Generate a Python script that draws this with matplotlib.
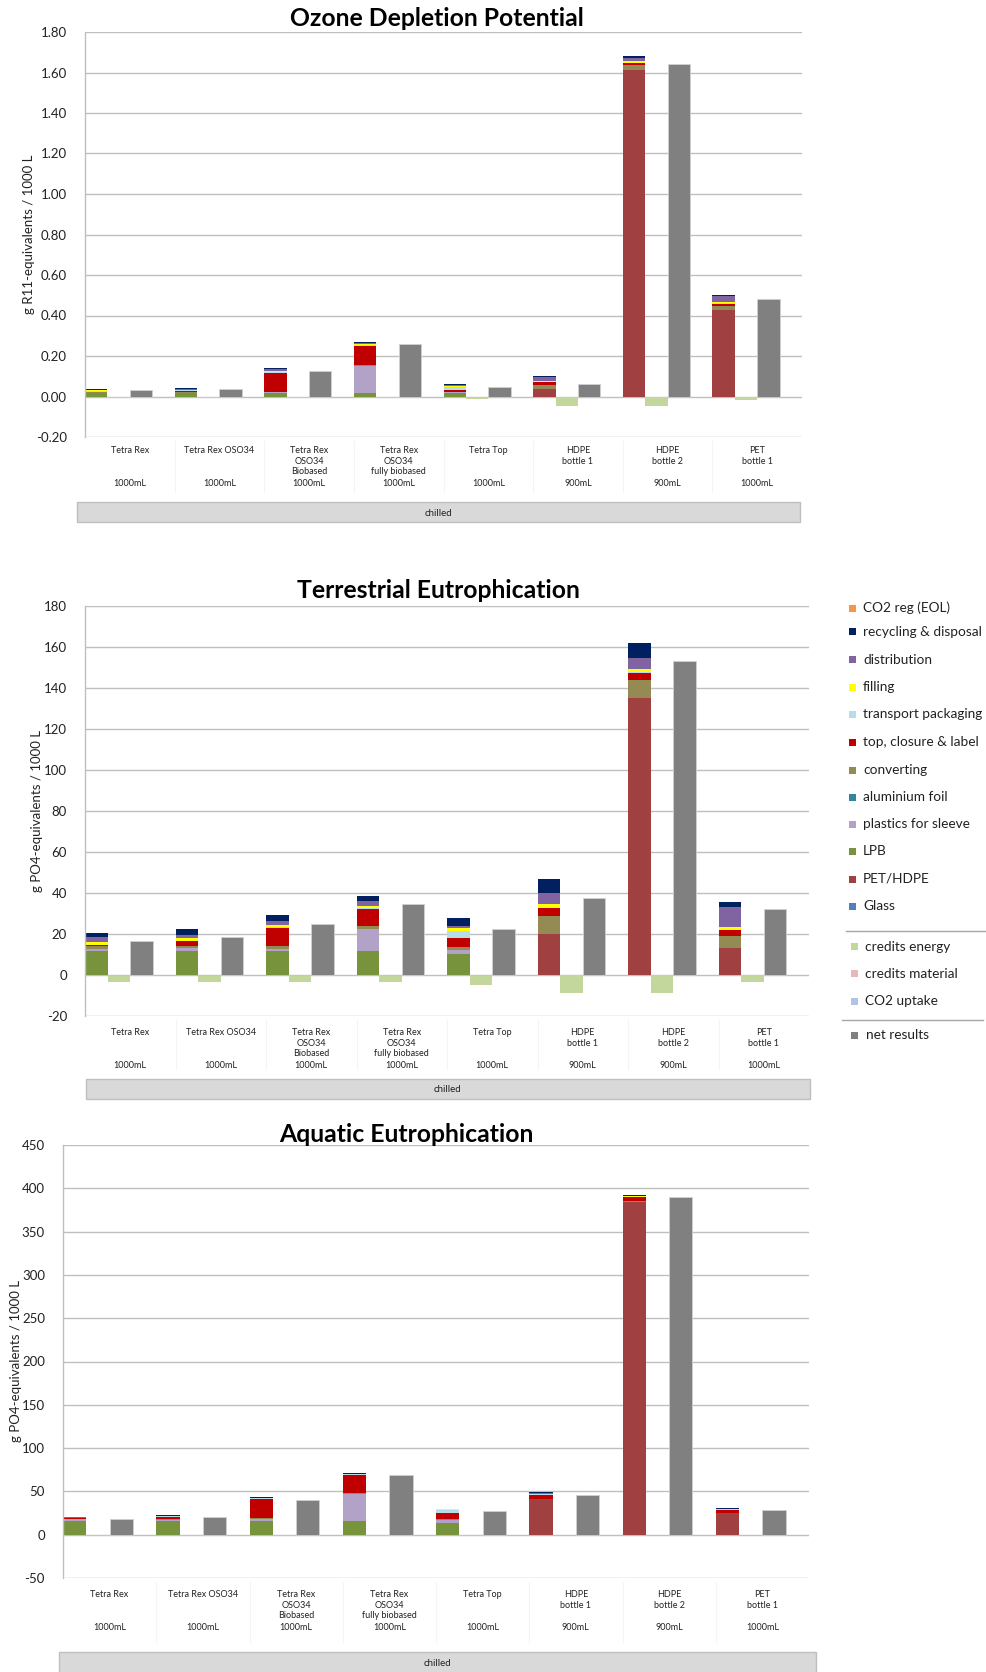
import matplotlib
matplotlib.use("Agg")
import matplotlib.pyplot as plt
from matplotlib.patches import Rectangle
from matplotlib.lines import Line2D
from matplotlib.transforms import blended_transform_factory
import numpy as np

plt.rcParams['font.family'] = ['Lato', 'DejaVu Sans']

W, H = 986, 1672

categories = ["Tetra Rex", "Tetra Rex OSO34", "Tetra Rex\nOSO34\nBiobased",
              "Tetra Rex\nOSO34\nfully biobased", "Tetra Top", "HDPE\nbottle 1",
              "HDPE\nbottle 2", "PET\nbottle 1"]
volumes = ["1000mL", "1000mL", "1000mL", "1000mL", "1000mL", "900mL", "900mL", "1000mL"]
group_label = "chilled"

# stacking order (bottom -> top)
comp_names = ["Glass", "PET/HDPE", "LPB", "plastics for sleeve", "aluminium foil",
              "converting", "top, closure & label", "transport packaging", "filling",
              "distribution", "recycling & disposal", "CO2 reg (EOL)"]
comp_colors = ["#4F81BD", "#A04040", "#77933C", "#B3A2C7", "#31859C", "#948A54",
               "#C00000", "#B7DEE8", "#FFFF00", "#8064A2", "#002060", "#F79646"]
credit_names = ["CO2 uptake", "credits material", "credits energy"]
credit_colors = ["#B0C4E4", "#E6B9B8", "#C3D69B"]
net_color = "#808080"

Z = [0] * 8

# ---------- Ozone Depletion Potential ----------
odp_glass = Z
odp_pet = [0, 0, 0, 0, 0, 0.036, 1.613, 0.426]
odp_lpb = [0.015, 0.015, 0.017, 0.015, 0.018, 0, 0, 0]
odp_sleeve = [0.004, 0.003, 0.003, 0.138, 0.003, 0, 0, 0]
odp_alu = Z
odp_converting = [0.003, 0.003, 0.002, 0.002, 0.001, 0.023, 0.023, 0.023]
odp_top = [0.002, 0.008, 0.096, 0.096, 0.012, 0.012, 0.010, 0.010]
odp_transport = [0.002, 0.001, 0.002, 0.001, 0.012, 0.002, 0.001, 0.001]
odp_filling = [0.004, 0.003, 0.007, 0.007, 0.007, 0.005, 0.008, 0.008]
odp_distribution = [0.004, 0.005, 0.007, 0.004, 0.005, 0.017, 0.018, 0.030]
odp_recycling = [0.003, 0.004, 0.006, 0.004, 0.005, 0.005, 0.008, 0.003]
odp_co2reg = Z
odp_co2uptake = Z
odp_cred_material = Z
odp_cred_energy = [-0.007, -0.007, -0.008, -0.007, -0.013, -0.045, -0.045, -0.017]
odp_net = [0.033, 0.038, 0.126, 0.257, 0.048, 0.060, 1.640, 0.483]

# ---------- Terrestrial Eutrophication ----------
te_glass = Z
te_pet = [0, 0, 0, 0, 0, 20.0, 135.2, 13.2]
te_lpb = [11.5, 11.5, 11.5, 11.5, 10.3, 0, 0, 0]
te_sleeve = [1.3, 1.45, 1.3, 11.1, 1.8, 0, 0, 0]
te_alu = Z
te_converting = [1.45, 1.3, 1.45, 1.3, 1.45, 8.9, 8.7, 6.0]
te_top = [0.3, 2.1, 8.9, 8.4, 4.5, 3.7, 3.5, 2.6]
te_transport = [0.2, 0.3, 0.3, 0.3, 3.4, 0.3, 0.5, 0.3]
te_filling = [1.45, 1.3, 1.0, 1.3, 1.45, 1.6, 1.45, 1.45]
te_distribution = [2.1, 1.45, 2.1, 2.1, 1.0, 5.6, 5.3, 9.5]
te_recycling = [2.1, 3.2, 2.6, 2.4, 3.9, 6.5, 7.1, 2.7]
te_co2reg = Z
te_co2uptake = Z
te_cred_material = [-0.6, -0.6, -0.6, -0.6, -0.6, 0, 0, 0]
te_cred_energy = [-2.6, -2.9, -2.9, -2.9, -4.4, -8.9, -8.9, -3.4]
te_net = [16.8, 18.4, 24.8, 34.4, 22.6, 37.6, 153.1, 32.3]

# ---------- Aquatic Eutrophication ----------
ae_glass = Z
ae_pet = [0, 0, 0, 0, 0, 40.8, 384.0, 25.0]
ae_lpb = [15.5, 15.5, 15.5, 15.5, 13.6, 0, 0, 0]
ae_sleeve = [2.3, 1.9, 2.7, 31.4, 3.9, 0, 0, 0]
ae_alu = Z
ae_converting = [0.6, 0.5, 0.6, 0.8, 0.8, 0.6, 1.5, 0.5]
ae_top = [0.4, 2.7, 22.9, 21.3, 6.2, 5.0, 4.5, 3.1]
ae_transport = [0.5, 0.8, 0.5, 1.0, 4.3, 0.5, 0.5, 0.5]
ae_filling = [0.3, 0.3, 0.3, 0.3, 0.3, 0.3, 0.3, 0.3]
ae_distribution = [0.3, 0.3, 0.3, 0.3, 0.3, 0.5, 0.5, 0.5]
ae_recycling = [0.5, 0.5, 0.5, 0.7, 0.8, 1.5, 1.5, 1.5]
ae_co2reg = Z
ae_co2uptake = Z
ae_cred_material = [-1.5, -1.5, -1.5, -1.5, -1.5, 0, 0, 0]
ae_cred_energy = [0, 0, 0, 0, 0, -0.8, -0.8, -0.8]
ae_net = [17.8, 20.5, 39.5, 68.6, 27.1, 46.2, 390.0, 28.8]

panels = [
    dict(title="Ozone Depletion Potential", ylabel="g R11-equivalents / 1000 L",
         comps=[odp_glass, odp_pet, odp_lpb, odp_sleeve, odp_alu, odp_converting, odp_top,
                odp_transport, odp_filling, odp_distribution, odp_recycling, odp_co2reg],
         credits=[odp_co2uptake, odp_cred_material, odp_cred_energy], net=odp_net,
         ylim=(-0.2, 1.8), step=0.2, fmt="{:.2f}",
         box=(85, 802, 32, 437), title_xy=(437, 19), ylab_x=29,
         name_y=446, vol_y=483, chilled=(77, 800, 502, 522)),
    dict(title="Terrestrial Eutrophication", ylabel="g PO4-equivalents / 1000 L",
         comps=[te_glass, te_pet, te_lpb, te_sleeve, te_alu, te_converting, te_top,
                te_transport, te_filling, te_distribution, te_recycling, te_co2reg],
         credits=[te_co2uptake, te_cred_material, te_cred_energy], net=te_net,
         ylim=(-20, 180), step=20, fmt="{:.0f}",
         box=(85, 809, 606, 1016), title_xy=(438, 590), ylab_x=37,
         name_y=1028, vol_y=1065, chilled=(86, 810, 1079, 1099)),
    dict(title="Aquatic Eutrophication", ylabel="g PO4-equivalents / 1000 L",
         comps=[ae_glass, ae_pet, ae_lpb, ae_sleeve, ae_alu, ae_converting, ae_top,
                ae_transport, ae_filling, ae_distribution, ae_recycling, ae_co2reg],
         credits=[ae_co2uptake, ae_cred_material, ae_cred_energy], net=ae_net,
         ylim=(-50, 450), step=50, fmt="{:.0f}",
         box=(63, 809, 1145, 1578), title_xy=(406, 1134), ylab_x=16,
         name_y=1590, vol_y=1627, chilled=(59, 816, 1652, 1680)),
]

fig = plt.figure(figsize=(W / 100, H / 100), dpi=100)

def fy(py):
    return 1 - py / H

def fx(px):
    return px / W

grid_col = "#BFBFBF"
n = len(categories)
x_stack = np.arange(n) * 4 + 0.5
x_cred = x_stack + 1
x_net = x_stack + 2

for p in panels:
    l, r, t, b = p["box"]
    ax = fig.add_axes([fx(l), fy(b), fx(r) - fx(l), fy(t) - fy(b)])
    ax.set_xlim(0, 4 * n)
    ax.set_ylim(*p["ylim"])
    ticks = np.arange(p["ylim"][0], p["ylim"][1] + p["step"] / 2, p["step"])
    ax.set_yticks(ticks)
    ax.set_yticklabels([p["fmt"].format(v) for v in ticks], fontsize=9.5, color="#222222")
    ax.tick_params(axis="y", length=0, pad=13)
    ax.set_xticks([])
    for s in ["top", "right", "bottom"]:
        ax.spines[s].set_visible(False)
    ax.spines["left"].set_color(grid_col)
    ax.spines["left"].set_linewidth(1.0)
    for v in ticks:
        ax.axhline(v, color=grid_col, lw=1.0, zorder=0.5)

    bottom = np.zeros(n)
    for vals, col in zip(p["comps"], comp_colors):
        vals = np.array(vals, dtype=float)
        ax.bar(x_stack, vals, width=1.0, bottom=bottom, color=col, linewidth=0, zorder=2)
        bottom += vals
    cb = np.zeros(n)
    for vals, col in zip(p["credits"], credit_colors):
        vals = np.array(vals, dtype=float)
        ax.bar(x_cred, vals, width=1.0, bottom=cb, color=col, linewidth=0, zorder=2)
        cb += vals
    ax.bar(x_net, p["net"], width=1.0, color=net_color, edgecolor="#D0D0D0",
           linewidth=0.6, zorder=2)

    trans = blended_transform_factory(ax.transData, fig.transFigure)
    for i in range(n):
        cx = 4 * i + 2
        ax.text(cx, fy(p["name_y"]), categories[i], transform=trans, ha="center",
                va="top", fontsize=6.5, color="#222222", linespacing=1.25)
        ax.text(cx, fy(p["vol_y"]), volumes[i], transform=trans, ha="center",
                va="center", fontsize=6.5, color="#222222")
        if i > 0:
            fig.add_artist(Line2D([fx(l + (r - l) * i / n)] * 2,
                                  [fy(b + 4), fy(p["chilled"][2] - 10)],
                                  color="#F4F4F4", lw=0.8))
    cl, cr, ct, cbm = p["chilled"]
    fig.add_artist(Rectangle((fx(cl), fy(cbm)), fx(cr) - fx(cl), fy(ct) - fy(cbm),
                             facecolor="#D9D9D9", edgecolor="#BFBFBF", lw=1.0,
                             transform=fig.transFigure))
    fig.text(fx((cl + cr) / 2), fy((ct + min(cbm, H)) / 2 + 1), group_label,
             ha="center", va="center", fontsize=7, color="#222222")

    fig.text(fx(p["title_xy"][0]), fy(p["title_xy"][1]), p["title"], ha="center",
             va="center", fontsize=17.8, fontweight="bold", color="black")
    fig.text(fx(p["ylab_x"]), fy((t + b) / 2), p["ylabel"], rotation=90,
             ha="center", va="center", fontsize=9.5, color="#222222")

# legend
leg_items = list(zip(comp_names[::-1], comp_colors[::-1]))
leg_y = [608, 632, 660, 687, 714, 742, 770, 797, 824, 851, 879, 906]
for (name, col), yy in zip(leg_items, leg_y):
    fig.add_artist(Rectangle((fx(849), fy(yy + 3.5)), fx(7), 7 / H, facecolor=col,
                             edgecolor="none", transform=fig.transFigure))
    fig.text(fx(863), fy(yy), name, ha="left", va="center", fontsize=9.8, color="#222222")
cred_leg = [("credits energy", credit_colors[2], 947), ("credits material", credit_colors[1], 974),
            ("CO2 uptake", credit_colors[0], 1001)]
for name, col, yy in cred_leg:
    fig.add_artist(Rectangle((fx(851), fy(yy + 3.5)), fx(7), 7 / H, facecolor=col,
                             edgecolor="none", transform=fig.transFigure))
    fig.text(fx(865), fy(yy), name, ha="left", va="center", fontsize=9.8, color="#222222")
fig.add_artist(Rectangle((fx(851), fy(1035 + 3.5)), fx(7), 7 / H, facecolor=net_color,
                         edgecolor="none", transform=fig.transFigure))
fig.text(fx(866), fy(1035), "net results", ha="left", va="center", fontsize=9.8, color="#222222")
fig.add_artist(Line2D([fx(846), fx(986)], [fy(931)] * 2, color="#A6A6A6", lw=1.0))
fig.add_artist(Line2D([fx(842), fx(983)], [fy(1020)] * 2, color="#A6A6A6", lw=1.0))

fig.savefig("out.png", dpi=100, facecolor="white")
